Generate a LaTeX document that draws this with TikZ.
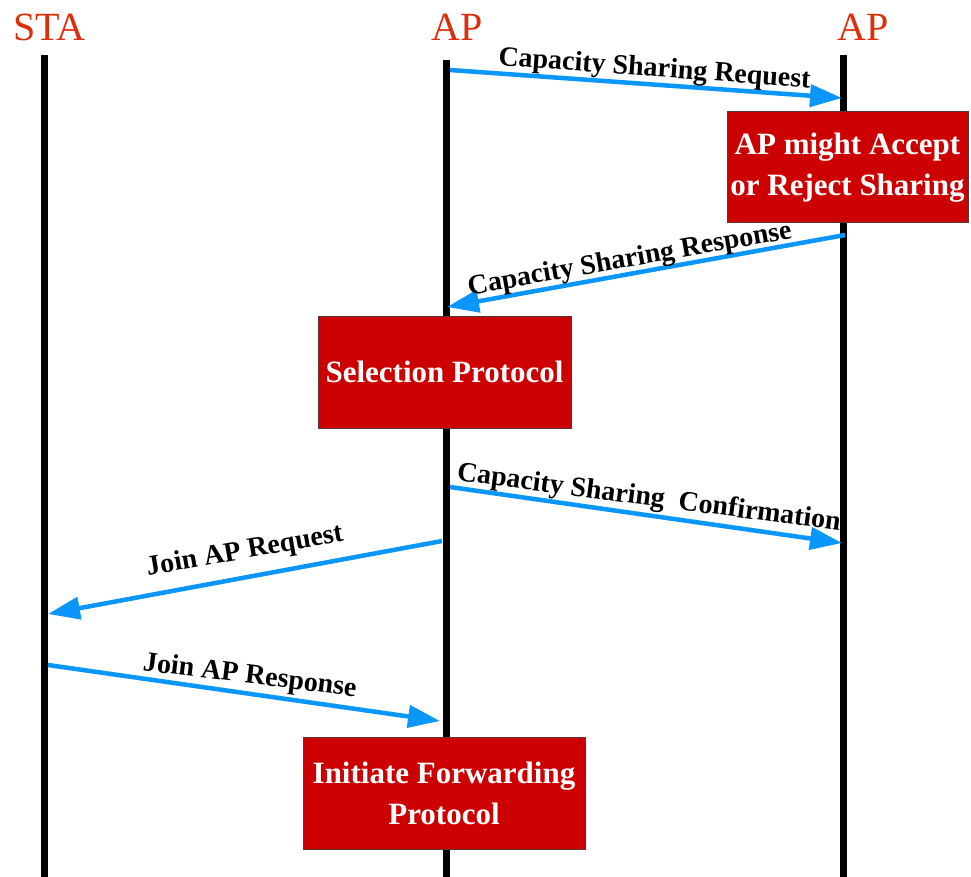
\documentclass[tikz,border=0pt]{standalone}
\usepackage{fontspec}
\setmainfont{Liberation Serif}
\usetikzlibrary{arrows.meta}
\definecolor{titlered}{RGB}{222,45,10}
\definecolor{boxred}{RGB}{204,0,0}
\definecolor{boxedge}{RGB}{90,55,55}
\definecolor{msgblue}{RGB}{10,150,250}
\tikzset{
  lifeline/.style={line width=7pt, black},
  msg/.style={line width=4.5pt, msgblue, -{Triangle[length=32pt,width=22pt]}},
  title/.style={text=titlered, font=\fontsize{40}{48}\selectfont, anchor=base, inner sep=0pt},
  lbl/.style={font=\bfseries\fontsize{28}{34}\selectfont, anchor=base, inner sep=0pt},
  actbox/.style={fill=boxred, draw=boxedge, line width=1pt, text=white, align=center,
    font=\bfseries\fontsize{31}{41}\selectfont, inner sep=0pt}
}
\begin{document}
\begin{tikzpicture}[x=1pt,y=-1pt]
\useasboundingbox (0,0) rectangle (971,877);
% lifelines
\coordinate (staT) at (44,55);   \coordinate (staB) at (44,877);
\coordinate (ap1T) at (446,60);  \coordinate (ap1B) at (446,877);
\coordinate (ap2T) at (843.5,55);\coordinate (ap2B) at (843.5,877);
\draw[lifeline] (staT) -- (staB);
\draw[lifeline] (ap1T) -- (ap1B);
\draw[lifeline] (ap2T) -- (ap2B);
% titles
\node[title] (tsta) at (49.5,41) {STA};
\node[title] (tap1) at (457.5,41) {AP};
\node[title] (tap2) at (863.5,41) {AP};
% boxes
\node[actbox, minimum width=241pt, minimum height=111pt] (accept) at (847.5,167.5) {AP might Accept\\or Reject Sharing};
\node[actbox, minimum width=253pt, minimum height=112pt] (select) at (444.5,372) {Selection Protocol};
\node[actbox, minimum width=282pt, minimum height=112pt] (forward) at (444,793) {Initiate Forwarding\\Protocol};
% message end points
\coordinate (m1s) at (450,70);  \coordinate (m1e) at (842,98);
\coordinate (m2s) at (845,235); \coordinate (m2e) at (447,307);
\coordinate (m3s) at (450,487); \coordinate (m3e) at (842,543);
\coordinate (m4s) at (442,541); \coordinate (m4e) at (48,614);
\coordinate (m5s) at (48,665);  \coordinate (m5e) at (440,721);
\draw[msg] (m1s) -- (m1e);
\draw[msg] (m2s) -- (m2e);
\draw[msg] (m3s) -- (m3e);
\draw[msg] (m4s) -- (m4e);
\draw[msg] (m5s) -- (m5e);
% labels
\node[lbl, rotate=-4.1] (l1) at (654,76.5) {Capacity Sharing Request};
\node[lbl, rotate=10] (l2) at (631,266.5) {Capacity Sharing Response};
\node[lbl, rotate=-7.5] (l3) at (648,505.5) {Capacity Sharing\ \ Confirmation};
\node[lbl, rotate=10] (l4) at (246,558.5) {Join AP Request};
\node[lbl, rotate=-7] (l5) at (249,683.5) {Join AP Response};
\end{tikzpicture}
\end{document}
